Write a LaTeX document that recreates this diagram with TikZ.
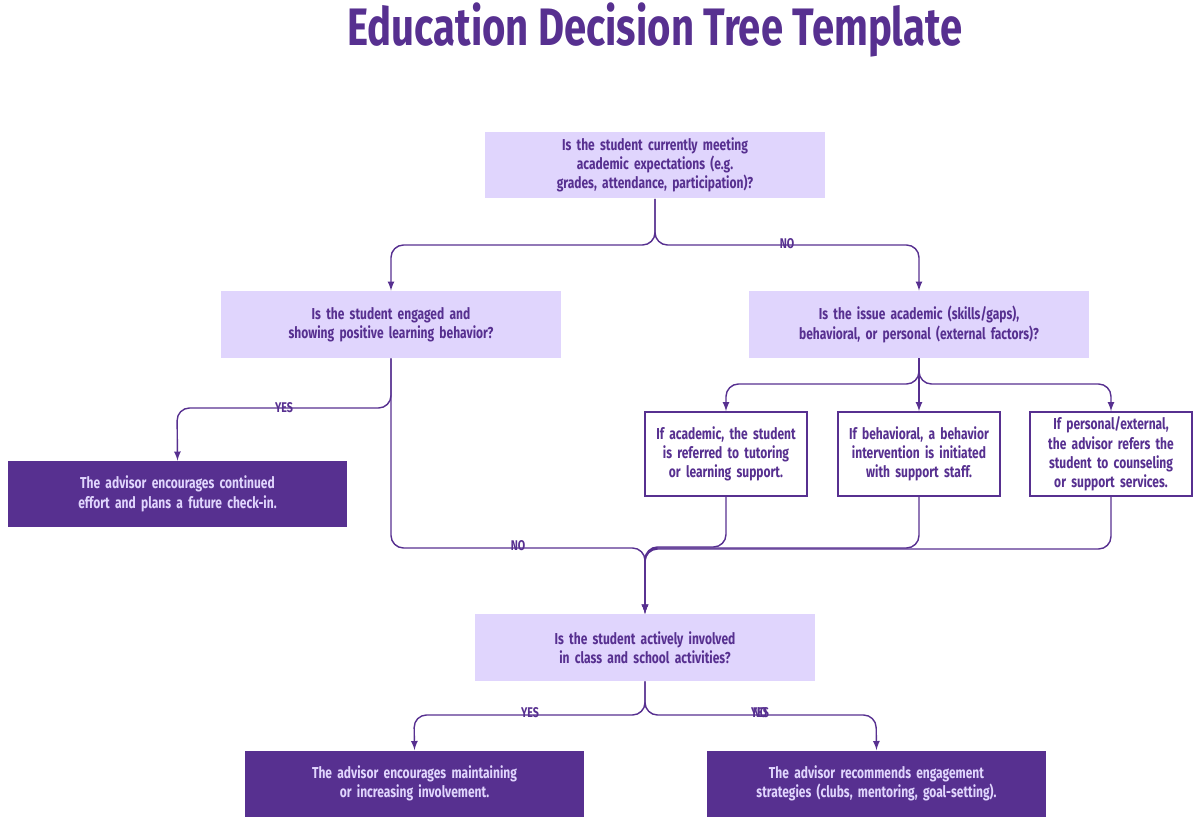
\documentclass[tikz,border=0pt]{standalone}
\usepackage{fontspec}
\setmainfont{Fira Sans}[FakeStretch=0.76]
\usetikzlibrary{calc,positioning}
\definecolor{deep}{HTML}{573090}
\definecolor{lav}{HTML}{E0D5FD}
\tikzset{>=latex}
\tikzset{
  question/.style = {fill=lav, text=deep, font=\bfseries\small, minimum width=6.8cm, minimum height=1.34cm, text width=6cm, align=center, inner sep=2pt},
  answer/.style   = {fill=deep, text=lav, font=\bfseries\small, minimum width=6.78cm, minimum height=1.32cm, text width=6.6cm, align=center, inner sep=2pt},
  branch/.style   = {draw=deep, line width=0.9pt, fill=white, text=deep, font=\bfseries\small, minimum width=3.24cm, minimum height=1.68cm, text width=3.1cm, align=center, inner sep=2pt},
  link/.style     = {draw=deep, line width=0.8pt, rounded corners=0.25cm},
  tag/.style      = {text=deep, font=\bfseries\footnotesize, inner sep=0pt}
}

\begin{document}
\begin{tikzpicture}[x=0.02cm, y=-0.02cm]
  \hyphenpenalty=10000 \exhyphenpenalty=10000
  \useasboundingbox (0,0) rectangle (1200,824);
  \node[text=deep, font=\bfseries\fontsize{30}{32}\selectfont] (title) at (655,30) {Education Decision Tree Template};
  % questions
  \node[question] (q1) at (655,165) {Is the student currently meeting academic expectations (e.g. grades, attendance, participation)?};
  \node[question] (q2) at (391,324.5) {Is the student engaged and showing positive learning behavior?};
  \node[question] (q3) at (919,324.5) {Is the issue academic (skills/gaps), behavioral, or personal (external factors)?};
  \node[question] (q4) at (645,647.5) {Is the student actively involved in class and school activities?};
  % outcomes
  \node[answer] (a1) at (177.5,494) {The advisor encourages continued effort and plans a future check-in.};
  \node[answer] (a2) at (414.5,783.5) {The advisor encourages maintaining or increasing involvement.};
  \node[answer] (a3) at (876.5,783.5) {The advisor recommends engagement strategies (clubs, mentoring, goal-setting).};
  \node[branch] (b1) at (726,454) {If academic, the student is referred to tutoring or learning support.};
  \node[branch] (b2) at (919,454) {If behavioral, a behavior intervention is initiated with support staff.};
  \node[branch] (b3) at (1111,454) {If personal/external, the advisor refers the student to counseling or support services.};
  % connectors
  \draw[link,->] (q1.south) |- (391,245) -- (q2.north);
  \draw[link,->] (q1.south) |- (919,245) -- (q3.north);
  \draw[link,->] (q2.south) |- (177,408) -- (a1.north);
  \draw[link,->] (q2.south) |- (645,548) -- (q4.north);
  \draw[link,->] (q3.south) |- (726,384) -- (b1.north);
  \draw[link,->] (q3.south) -- (b2.north);
  \draw[link,->] (q3.south) |- (1111,384) -- (b3.north);
  \draw[link,->] (b1.south) |- (645,547) -- (q4.north);
  \draw[link,->] (b2.south) |- (645,548) -- (q4.north);
  \draw[link,->] (b3.south) |- (645,549) -- (q4.north);
  \draw[link,->] (q4.south) |- (414,715) -- (a2.north);
  \draw[link,->] (q4.south) |- (876,715) -- (a3.north);
  % labels
  \node[tag] (no1) at (787,244) {NO};
  \node[tag] (yes1) at (284,408) {YES};
  \node[tag] (no2) at (518,546) {NO};
  \node[tag] (yes2) at (530,713) {YES};
  \node[tag] (yes3) at (760,713) {YES};
  \node[tag] (no3) at (760,713) {NO};
\end{tikzpicture}
\end{document}
